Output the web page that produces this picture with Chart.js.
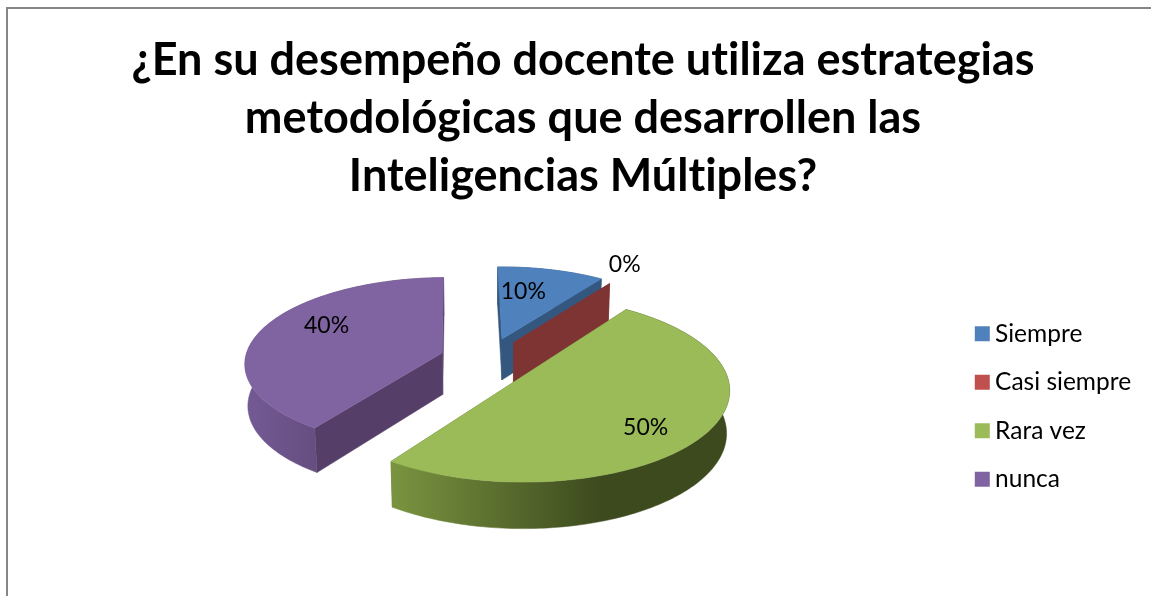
<!DOCTYPE html>
<html><head><meta charset="utf-8">
<style>
html,body{margin:0;padding:0;background:#fff;width:1151px;height:596px;overflow:hidden}
#frame{position:absolute;left:6px;top:7px;width:1160px;height:620px;border:2px solid #868686;box-sizing:border-box}
canvas{position:absolute;left:0;top:0}
</style>
<script src="https://cdn.jsdelivr.net/npm/chart.js@4"></script>
</head><body>
<div id="frame"></div>
<canvas id="c" width="1151" height="596"></canvas>
<script>
const categories = ['Siempre', 'Casi siempre', 'Rara vez', 'nunca'];
const values = [10, 0, 50, 40];
const titleLines = ['¿En su desempeño docente utiliza estrategias', 'metodológicas que desarrollen las', 'Inteligencias Múltiples?'];
const legendColors = ['#4F81BD', '#C0504D', '#9BBB59', '#8064A2'];
const topColors = ['#4F81BD', '#C0504D', '#9BBB59', '#8064A2'];
const radialWall = ['#34577F', '#7F3434', '#5D7335', '#553E68'];
const rimLeft = ['#34577F', '#7F3434', '#7A9440', '#735A94'];
const rimRight = ['#34577F', '#7F3434', '#3C4A1E', '#5C4572'];
const explode = [[0.07, -0.22], [0.128, -0.18], [0.15, 0.225], [-0.225, -0.057]];
const sliceRadius = [0.95, 0.92, 0.99, 0.96];
const labelPlace = [[0.62, -6], [1.205, -3.5], [0.748, 7], [0.68, 11.7]];

const cam = {Ox: 488, Oy: 358, f: 1640, D: 8, sin: 0.43, cos: 0.903, h: 0.228};
function project(X, Y, Z) {
  const depth = Y * cam.cos + Z * cam.sin;
  const s = cam.f / (cam.D - depth);
  return [cam.Ox + s * X, cam.Oy + s * (Y * cam.sin - Z * cam.cos)];
}
function polygon(ctx, pts) {
  ctx.beginPath();
  pts.forEach((p, i) => i ? ctx.lineTo(p[0], p[1]) : ctx.moveTo(p[0], p[1]));
  ctx.closePath();
}
function fillPoly(ctx, pts, fill) {
  polygon(ctx, pts);
  ctx.fillStyle = fill;
  ctx.strokeStyle = fill;
  ctx.lineWidth = 0.5;
  ctx.fill();
  ctx.stroke();
}
const pie3d = {
  id: 'pie3d',
  beforeDraw(chart) {
    chart.ctx.letterSpacing = '0.01px';
  },
  beforeDatasetsDraw(chart) {
    const ctx = chart.ctx;
    const arcs = chart.getDatasetMeta(0).data;
    ctx.save();
    arcs.forEach((arc, i) => {
      const a0 = arc.startAngle, a1 = arc.endAngle;
      const [ex, ey] = explode[i];
      const R = sliceRadius[i];
      const n = Math.max(1, Math.round((a1 - a0) / 0.02));
      const rim = [];
      for (let k = 0; k <= n; k++) {
        const t = a0 + (a1 - a0) * k / n;
        rim.push([ex + R * Math.cos(t), ey + R * Math.sin(t)]);
      }
      const up = p => project(p[0], p[1], 0);
      const dn = p => project(p[0], p[1], -cam.h);
      const apex = [ex, ey];
      const first = rim[0], last = rim[rim.length - 1];
      fillPoly(ctx, [up(apex), up(first), dn(first), dn(apex)], radialWall[i]);
      fillPoly(ctx, [up(apex), up(last), dn(last), dn(apex)], radialWall[i]);
      if (a1 > a0) {
        const wall = rim.map(up).concat(rim.slice().reverse().map(dn));
        const xs = wall.map(p => p[0]);
        const g = ctx.createLinearGradient(Math.min(...xs), 0, Math.max(...xs), 0);
        g.addColorStop(0, rimLeft[i]);
        g.addColorStop(0.62, rimRight[i]);
        g.addColorStop(1, rimRight[i]);
        fillPoly(ctx, wall, g);
        fillPoly(ctx, [up(apex)].concat(rim.map(up)), topColors[i]);
      }
    });
    ctx.fillStyle = '#000';
    ctx.font = '23px Lato';
    ctx.textAlign = 'center';
    ctx.textBaseline = 'middle';
    const total = values.reduce((a, b) => a + b, 0);
    arcs.forEach((arc, i) => {
      const mid = (arc.startAngle + arc.endAngle) / 2 + labelPlace[i][1] * Math.PI / 180;
      const r = labelPlace[i][0];
      const p = project(explode[i][0] + r * Math.cos(mid), explode[i][1] + r * Math.sin(mid), 0);
      ctx.fillText(Math.round(values[i] / total * 100) + '%', p[0], p[1]);
    });
    ctx.restore();
    return false;
  }
};
new Chart(document.getElementById('c'), {
  type: 'pie',
  data: {labels: categories, datasets: [{data: values, backgroundColor: legendColors, borderWidth: 0}]},
  plugins: [pie3d],
  options: {
    responsive: false,
    animation: false,
    rotation: -1,
    layout: {padding: {left: 25, right: 10, top: 31, bottom: 0}},
    plugins: {
      tooltip: {enabled: false},
      title: {display: true, text: titleLines, color: '#000', padding: {top: 0, bottom: 12},
        font: {family: 'Lato', size: 45, weight: 'bold', lineHeight: 1.289}},
      legend: {position: 'right', fullSize: false, labels: {
        color: '#000', boxWidth: 1, boxHeight: 1, padding: 24, font: {family: 'Lato', size: 24.5},
        generateLabels: () => categories.map((c, i) => ({text: c, fillStyle: legendColors[i], strokeStyle: legendColors[i], lineWidth: 14, lineJoin: 'miter', index: i, hidden: false}))
      }}
    }
  }
});
</script>
</body></html>
